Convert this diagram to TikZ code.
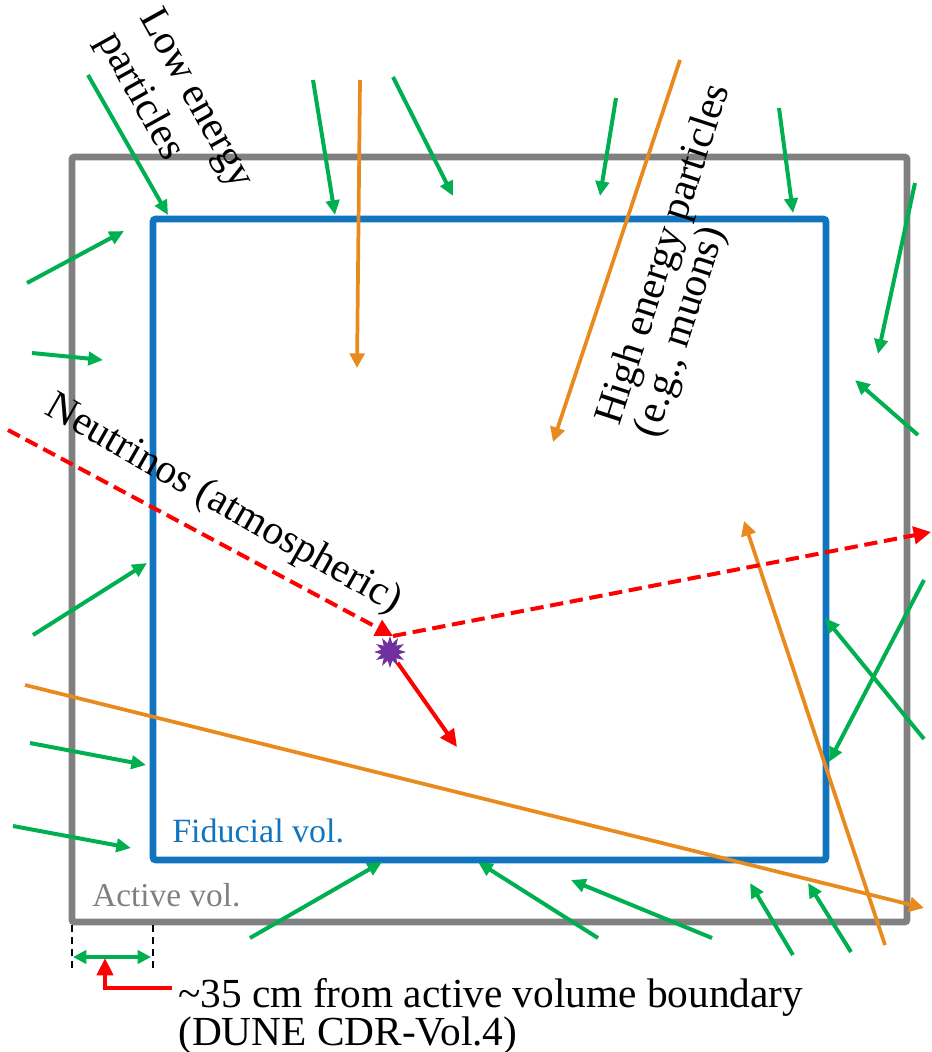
\documentclass[tikz,border=0pt]{standalone}
\usepackage{fontspec}
\setmainfont{Liberation Serif}
\usetikzlibrary{arrows.meta,shapes.geometric}
\definecolor{actgray}{RGB}{128,128,128}
\definecolor{fidblue}{RGB}{16,117,190}
\definecolor{pgreen}{RGB}{0,176,80}
\definecolor{porange}{RGB}{232,138,30}
\definecolor{pred}{RGB}{255,0,0}
\definecolor{ppurple}{RGB}{112,48,160}
\tikzset{
  activebox/.style={draw=actgray,line width=5.2pt,rounded corners=2pt},
  fidbox/.style={draw=fidblue,line width=5pt,rounded corners=2pt},
  greenarrow/.style={draw=pgreen,line width=3pt,-{Triangle[length=11pt,width=10pt]}},
  orangearrow/.style={draw=porange,line width=2.8pt,-{Triangle[length=11pt,width=11pt]}},
  nuarrow/.style={draw=pred,line width=3pt,dash pattern=on 10pt off 5pt,-{Triangle[length=13pt,width=13pt]}},
  redarrow/.style={draw=pred,line width=3pt,-{Triangle[length=13pt,width=12pt]}},
  bigtext/.style={font=\fontsize{31}{30}\selectfont,inner sep=0pt},
  dimline/.style={draw=black,line width=1.1pt,dash pattern=on 5pt off 4pt},
}
\begin{document}
\begin{tikzpicture}[x=0.75pt,y=-0.75pt]
\useasboundingbox (0,0) rectangle (931,1052);
% boxes
\coordinate (a1) at (72,157); \coordinate (a2) at (907,922);
\coordinate (f1) at (153,219); \coordinate (f2) at (826,860);
\draw[activebox] (a1) rectangle (a2);
\draw[fidbox] (f1) rectangle (f2);
% green arrows
\foreach \xa/\ya/\xb/\yb [count=\i] in {
  88/75/168/215, 313/80/335/215, 393/77/453/196, 616/98/600/196,
  779/108/793/213, 915/183/878/354, 27/283/124/231, 32/353/103/360,
  918/435/855/380, 33/635/147/563, 924/580/829/762, 924/739/825/618,
  30/743/146/765, 13/826/131/848, 250/938/382/862, 598/938/478/862,
  712/938/571/880, 793/955/750/883, 851/952/808/883}{
  \coordinate (gs\i) at (\xa,\ya);
  \coordinate (ge\i) at (\xb,\yb);
  \draw[greenarrow] (gs\i) -- (ge\i);
}
% orange arrows
\foreach \xa/\ya/\xb/\yb [count=\i] in {
  360/80/357/368, 680/60/553/442, 885/945/744/521, 25/685/924/908}{
  \coordinate (os\i) at (\xa,\ya);
  \coordinate (oe\i) at (\xb,\yb);
  \draw[orangearrow] (os\i) -- (oe\i);
}
% neutrino
\coordinate (nuin) at (8,430);
\coordinate (vtx) at (393,636);
\coordinate (nuout) at (931,532);
\coordinate (rend) at (457,747);
\draw[nuarrow] (nuin) -- (vtx);
\draw[nuarrow] (vtx) -- (nuout);
\node[star,star points=12,star point ratio=1.8,fill=ppurple,inner sep=0pt,minimum size=24pt] (star) at (390,652) {};
\draw[redarrow] (star) -- (rend);
% labels
\node[bigtext,font=\fontsize{31}{36}\selectfont,align=left,rotate=-61] (lowlbl) at (174,111) {Low energy\\particles};
\node[bigtext,align=left,rotate=72] (highlbl) at (684,261) {High energy particles\\(e.g., muons)};
\node[bigtext,rotate=-29.7] (nulbl) at (223,505) {Neutrinos (atmospheric)};
\node[font=\fontsize{25.5}{30}\selectfont,text=fidblue,inner sep=0pt,anchor=base west] (fidlbl) at (172,842) {Fiducial vol.};
\node[font=\fontsize{25}{30}\selectfont,text=actgray,inner sep=0pt,anchor=base west] (actlbl) at (92,906) {Active vol.};
% dimension
\coordinate (d1a) at (72,925); \coordinate (d1b) at (72,971);
\coordinate (d2a) at (153,925); \coordinate (d2b) at (153,971);
\draw[dimline] (d1a) -- (d1b);
\draw[dimline] (d2a) -- (d2b);
\coordinate (m1) at (73,957); \coordinate (m2) at (151,957);
\draw[draw=pgreen,line width=3pt,{Triangle[length=10pt,width=10pt]}-{Triangle[length=10pt,width=10pt]}] (m1) -- (m2);
\node[bigtext,anchor=base west] (ann1) at (178,1007) {\textasciitilde35 cm from active volume boundary};
\node[bigtext,anchor=base west] (ann2) at (178,1045) {(DUNE CDR-Vol.4)};
\coordinate (rk) at (105,988); \coordinate (rt) at (105,958);
\draw[redarrow] (ann1.west |- rk) ++(-6,0) -- (rk) -- (rt);
\end{tikzpicture}
\end{document}
